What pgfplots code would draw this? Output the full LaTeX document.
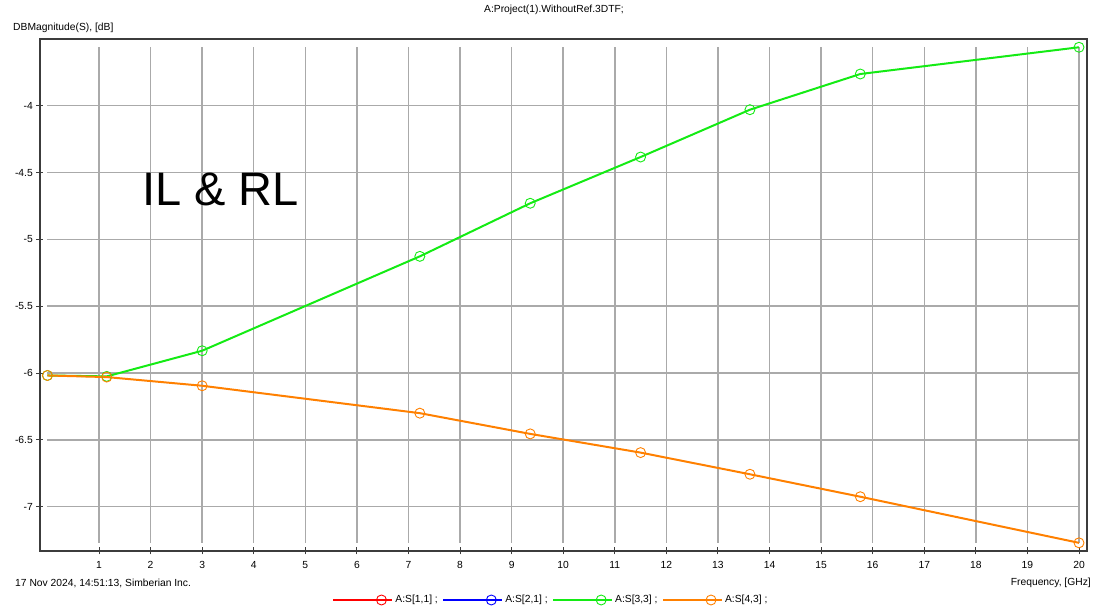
\documentclass[border=0pt]{standalone}
\usepackage{fontspec}
\setmainfont{Liberation Sans}
\usepackage{pgfplots}
\pgfplotsset{compat=1.18}
\definecolor{sgreen}{RGB}{20,235,20}
\definecolor{sorange}{RGB}{255,128,0}
\definecolor{sred}{RGB}{255,0,0}
\definecolor{sblue}{RGB}{0,0,255}
\definecolor{gridc}{RGB}{170,170,170}
\definecolor{framec}{RGB}{60,60,60}
\newcommand{\sfont}{\fontsize{10.3bp}{12bp}\selectfont}
\begin{document}
\begin{tikzpicture}
\begin{axis}[
  name=ax, at={(0,0)}, anchor=south west,
  scale only axis, width=1047bp, height=512bp,
  xmin=-0.144, xmax=20.155, ymin=-7.331, ymax=-3.501,
  axis line style={framec, line width=1.2bp},
  xtick={1,2,3,4,5,6,7,8,9,10,11,12,13,14,15,16,17,18,19,20},
  xticklabels={1,2,3,4,5,6,7,8,9,10,11,12,13,14,15,16,17,18,19,20},
  ytick={-7,-6.5,-6,-5.5,-5,-4.5,-4},
  yticklabels={-7,-6.5,-6,-5.5,-5,-4.5,-4},
  xtick pos=bottom, ytick pos=left,
  tick align=center, major tick length=7bp,
  tick style={framec, line width=1bp},
  ticklabel style={font=\sfont},
  xticklabel style={inner sep=1bp, yshift=-6bp},
  yticklabel style={inner sep=1bp, xshift=-2.5bp},
  legend columns=4,
  legend style={draw=none, fill=none, font=\sfont, at={(0.488,-0.0957)}, anchor=center,
    /tikz/every even column/.append style={column sep=2.5bp}},
  legend image code/.code={
    \path (0bp,0bp) -- (59bp,0bp);
    \draw[#1,mark=none] (0bp,0bp) -- (48bp,0bp);
    \draw[#1,only marks] plot coordinates {(48bp,0bp)};},
  every axis plot/.append style={line width=2bp, mark=o, mark size=5bp,
    mark options={solid, line width=0.9bp}},
]
\pgfplotsinvokeforeach{-7,-6.5,-6,-5.5,-5,-4.5,-4}{
  \draw[gridc, line width=1.5bp] (axis cs:0,#1) -- (axis cs:20,#1);}
\pgfplotsinvokeforeach{1,2,3,4,5,6,7,8,9,10,11,12,13,14,15,16,17,18,19,20}{
  \draw[gridc, line width=1.5bp] (axis cs:#1,-7.27) -- (axis cs:#1,-3.563);}

\addlegendimage{sred, line width=2bp, mark=o, mark size=5bp, mark options={solid, line width=0.9bp}}
\addlegendentry{A:S[1,1] ;}
\addlegendimage{sblue, line width=2bp, mark=o, mark size=5bp, mark options={solid, line width=0.9bp}}
\addlegendentry{A:S[2,1] ;}

\addplot[sgreen] coordinates {
  (0,-6.018) (1.15,-6.025) (3.0,-5.833) (7.22,-5.127) (9.36,-4.73)
  (11.50,-4.384) (13.62,-4.03) (15.76,-3.763) (20,-3.563)};
\addlegendentry{A:S[3,3] ;}
\addplot[sorange] coordinates {
  (0,-6.018) (1.15,-6.03) (3.0,-6.095) (7.22,-6.30) (9.36,-6.455)
  (11.50,-6.595) (13.62,-6.757) (15.76,-6.925) (20,-7.27)};
\addlegendentry{A:S[4,3] ;}

\node[anchor=base west, inner sep=0pt, font=\fontsize{47bp}{54bp}\selectfont]
  at (axis cs:1.834,-4.743) {IL \& RL};
\end{axis}
\begin{scope}[shift={(ax.south west)}, x=1bp, y=1bp]
\node[font=\sfont] at (514,541) {A:Project(1).WithoutRef.3DTF;};
\node[font=\sfont, anchor=west, inner sep=0pt] at (-27,523) {DBMagnitude(S), [dB]};
\node[font=\sfont, anchor=west, inner sep=0pt] at (-25,-32) {17 Nov 2024, 14:51:13, Simberian Inc.};
\node[font=\sfont, anchor=east, inner sep=0pt] at (1051,-32) {Frequency, [GHz]};
\pgfresetboundingbox
\useasboundingbox (-40,-60) rectangle (1056,551);
\end{scope}
\end{tikzpicture}
\end{document}
